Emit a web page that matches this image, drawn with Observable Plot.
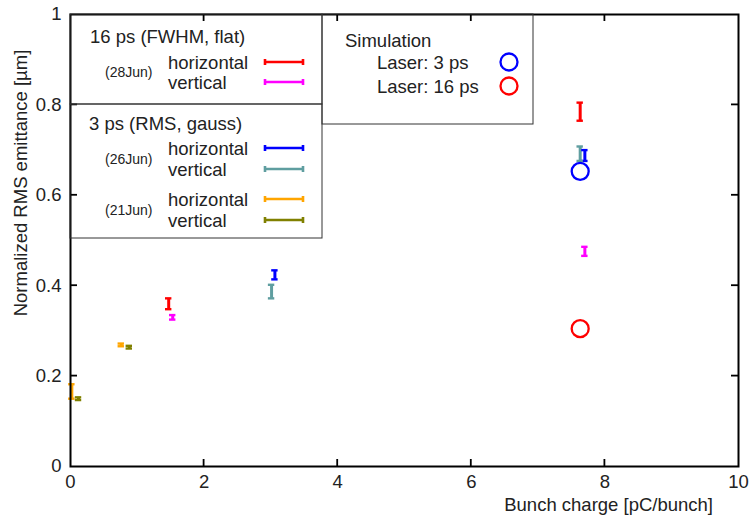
<!DOCTYPE html>
<html><head><meta charset="utf-8">
<script src="https://cdn.jsdelivr.net/npm/d3@7"></script>
<script src="https://cdn.jsdelivr.net/npm/@observablehq/plot@0.6"></script>
<style>body{margin:0;background:#fff;} #chart{width:750px;height:516px;}</style>
</head><body><div id="chart"></div>
<script>
// ---- data ----
const xTicks = [0, 2, 4, 6, 8, 10];
const yTicks = [0, 0.2, 0.4, 0.6, 0.8, 1];
const xLabel = "Bunch charge [pC/bunch]";
const yLabel = "Normalized RMS emittance [µm]";

// 16 ps (FWHM, flat), 28Jun
const charge16H = [1.47, 7.63];
const emit16H   = [0.360, 0.785];
const err16H    = [0.012, 0.020];
const charge16V = [1.53, 7.70];
const emit16V   = [0.330, 0.476];
const err16V    = [0.005, 0.010];
// 3 ps (RMS, gauss), 26Jun
const charge26H = [3.06, 7.70];
const emit26H   = [0.424, 0.688];
const err26H    = [0.010, 0.012];
const charge26V = [3.01, 7.63];
const emit26V   = [0.387, 0.692];
const err26V    = [0.015, 0.016];
// 3 ps (RMS, gauss), 21Jun
const charge21H = [0.02, 0.76];
const emit21H   = [0.166, 0.269];
const err21H    = [0.016, 0.003];
const charge21V = [0.12, 0.88];
const emit21V   = [0.150, 0.264];
const err21V    = [0.003, 0.003];
// Simulation
const simLabels = ["Laser: 3 ps", "Laser: 16 ps"];
const simCharge = [7.63, 7.63];
const simEmit   = [0.653, 0.305];

const seriesNames = ["16ps horizontal", "16ps vertical", "26Jun horizontal", "26Jun vertical", "21Jun horizontal", "21Jun vertical"];
const seriesColors = ["#ff0000", "#ff00ff", "#0000ff", "#5f9ea0", "#ffa500", "#808000"];
const simColors = ["#0000ff", "#ff0000"];

const seriesData = [
  [charge16H, emit16H, err16H], [charge16V, emit16V, err16V],
  [charge26H, emit26H, err26H], [charge26V, emit26V, err26V],
  [charge21H, emit21H, err21H], [charge21V, emit21V, err21V]
];
const points = seriesData.flatMap(([xs, ys, es], i) =>
  xs.map((x, j) => ({series: seriesNames[i], color: seriesColors[i], x, y: ys[j], e: es[j]})));
const sims = simCharge.map((x, i) => ({label: simLabels[i], color: simColors[i], x, y: simEmit[i]}));

const FONT = "'Liberation Sans', Arial, Helvetica, sans-serif";
const TXT = "#222";
const FS = 18.5;

const plot = Plot.plot({
  width: 750, height: 516,
  marginLeft: 70, marginRight: 12, marginTop: 14, marginBottom: 50,
  style: {fontFamily: FONT, fontSize: FS + "px", color: TXT, background: "white", overflow: "visible"},
  x: {domain: [0, 10]},
  y: {domain: [0, 1]},
  color: {type: "identity"},
  marks: [
    Plot.axisX(xTicks, {tickSize: 0, tickPadding: 8, label: null, fontSize: FS, fill: TXT, tickFormat: d => String(d)}),
    Plot.axisY(yTicks, {tickSize: 0, tickPadding: 9, label: null, fontSize: FS, fill: TXT, tickFormat: d => String(d)}),
    Plot.ruleX(points, {x: "x", y1: d => d.y - d.e, y2: d => d.y + d.e, stroke: "color", strokeWidth: 3}),
    Plot.ruleY(points, {x1: "x", x2: "x", y: d => d.y - d.e, stroke: "color", strokeWidth: 2.4, insetLeft: -3.2, insetRight: -3.2}),
    Plot.ruleY(points, {x1: "x", x2: "x", y: d => d.y + d.e, stroke: "color", strokeWidth: 2.4, insetLeft: -3.2, insetRight: -3.2}),
    Plot.dot(sims, {x: "x", y: "y", r: 8.5, stroke: "color", strokeWidth: 2.3, fill: "none"}),
    Plot.frame({stroke: "black", strokeWidth: 2})
  ]
});
document.getElementById("chart").appendChild(plot);

const svg = d3.select(plot);
const sx = plot.scale("x"), sy = plot.scale("y");
const X0 = sx.apply(0), X1 = sx.apply(10), Y0 = sy.apply(0), Y1 = sy.apply(1);
const TL = 7;
const g = svg.append("g").attr("stroke", "black").attr("stroke-width", 1.8);
for (const v of xTicks.slice(1, -1)) {
  const px = sx.apply(v);
  g.append("line").attr("x1", px).attr("x2", px).attr("y1", Y0).attr("y2", Y0 - TL);
  g.append("line").attr("x1", px).attr("x2", px).attr("y1", Y1).attr("y2", Y1 + TL);
}
for (const v of yTicks.slice(1, -1)) {
  const py = sy.apply(v);
  g.append("line").attr("y1", py).attr("y2", py).attr("x1", X0).attr("x2", X0 + TL);
  g.append("line").attr("y1", py).attr("y2", py).attr("x1", X1).attr("x2", X1 - TL);
}

// axis labels
svg.append("text").text(xLabel).attr("x", 713).attr("y", 511)
  .attr("text-anchor", "end").attr("font-family", FONT).attr("font-size", FS).attr("fill", TXT);
svg.append("text").text(yLabel).attr("transform", "translate(27,183) rotate(-90)")
  .attr("text-anchor", "middle").attr("font-family", FONT).attr("font-size", FS).attr("fill", TXT);

// legends
const lg = svg.append("g").attr("font-family", FONT).attr("fill", TXT).attr("text-anchor", "start");
const box = (x, y, w, h) => lg.append("rect").attr("x", x).attr("y", y).attr("width", w).attr("height", h)
  .attr("fill", "none").attr("stroke", "#333").attr("stroke-width", 1);
box(X0, Y1, 252, 90);
box(X0, Y1 + 90, 252, 134);
box(322, Y1, 211, 110);
const txt = (s, x, y, size) => lg.append("text").text(s).attr("x", x).attr("y", y)
  .attr("font-size", size).attr("text-anchor", "start").attr("dominant-baseline", "central");
const sample = (y, color) => {
  const s = lg.append("g").attr("stroke", color).attr("stroke-width", 2.6);
  s.append("line").attr("x1", 265).attr("x2", 303).attr("y1", y).attr("y2", y);
  s.append("line").attr("x1", 265).attr("x2", 265).attr("y1", y - 3).attr("y2", y + 3);
  s.append("line").attr("x1", 303).attr("x2", 303).attr("y1", y - 3).attr("y2", y + 3);
};
txt("16 ps (FWHM, flat)", 90, 36, FS);
txt("(28Jun)", 105, 72, 14);
txt("horizontal", 168, 62, FS); sample(62, seriesColors[0]);
txt("vertical", 168, 82, FS); sample(82, seriesColors[1]);
txt("3 ps (RMS, gauss)", 89, 123, FS);
txt("(26Jun)", 105, 159, 14);
txt("horizontal", 168, 148, FS); sample(148, seriesColors[2]);
txt("vertical", 168, 169, FS); sample(169, seriesColors[3]);
txt("(21Jun)", 105, 210, 14);
txt("horizontal", 168, 199, FS); sample(199, seriesColors[4]);
txt("vertical", 168, 220, FS); sample(220, seriesColors[5]);
txt("Simulation", 345, 40, FS);
txt(simLabels[0], 377, 62, FS);
txt(simLabels[1], 377, 86, FS);
lg.append("circle").attr("cx", 509).attr("cy", 62).attr("r", 8.5).attr("fill", "none").attr("stroke", simColors[0]).attr("stroke-width", 2.3);
lg.append("circle").attr("cx", 509).attr("cy", 86).attr("r", 8.5).attr("fill", "none").attr("stroke", simColors[1]).attr("stroke-width", 2.3);
</script>
</body></html>
